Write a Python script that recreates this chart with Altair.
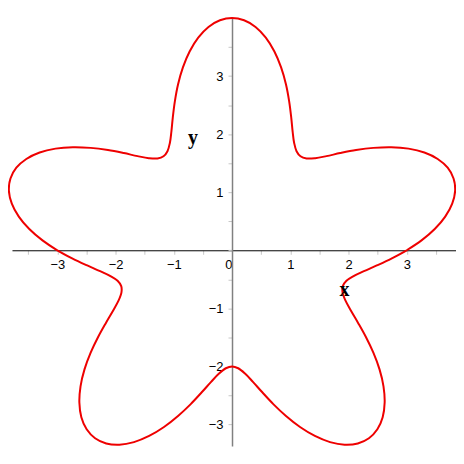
import altair as alt
import pandas as pd

# Curve points, traversed counter-clockwise from (3, 0)
xs = [3.000, 3.254, 3.481, 3.661, 3.781, 3.831, 3.804, 3.703, 3.532, 3.303,
      3.031, 2.733, 2.427, 2.130, 1.858, 1.621, 1.428, 1.280, 1.176, 1.108,
      1.067, 1.041, 1.017, 0.982, 0.927, 0.843, 0.728, 0.580, 0.404, 0.207,
      0.000,
      -0.207, -0.404, -0.580, -0.728, -0.843, -0.927, -0.982, -1.017, -1.041, -1.067,
      -1.108, -1.176, -1.280, -1.428, -1.621, -1.858, -2.130, -2.427, -2.733, -3.031,
      -3.303, -3.532, -3.703, -3.804, -3.831, -3.781, -3.661, -3.481, -3.254, -3.000,
      -2.737, -2.486, -2.265, -2.087, -1.965, -1.902, -1.899, -1.949, -2.043, -2.165,
      -2.299, -2.427, -2.533, -2.601, -2.621, -2.587, -2.496, -2.351, -2.160, -1.933,
      -1.683, -1.423, -1.168, -0.927, -0.709, -0.520, -0.359, -0.223, -0.106, 0.000,
      0.106, 0.223, 0.359, 0.520, 0.709, 0.927, 1.168, 1.423, 1.683, 1.933,
      2.160, 2.351, 2.496, 2.587, 2.621, 2.601, 2.533, 2.427, 2.299, 2.165,
      2.043, 1.949, 1.899, 1.902, 1.965, 2.087, 2.265, 2.486, 2.737, 3.000]
ys = [0.000, 0.170, 0.366, 0.580, 0.804, 1.026, 1.236, 1.421, 1.572, 1.683,
      1.750, 1.775, 1.763, 1.725, 1.673, 1.621, 1.586, 1.581, 1.618, 1.706,
      1.848, 2.043, 2.284, 2.559, 2.853, 3.148, 3.423, 3.661, 3.845, 3.960,
      4.000,
      3.960, 3.845, 3.661, 3.423, 3.148, 2.853, 2.559, 2.284, 2.043, 1.848,
      1.706, 1.618, 1.581, 1.586, 1.621, 1.673, 1.725, 1.763, 1.775, 1.750,
      1.683, 1.572, 1.421, 1.236, 1.026, 0.804, 0.580, 0.366, 0.170, 0.000,
      -0.143, -0.261, -0.359, -0.444, -0.526, -0.618, -0.729, -0.868, -1.041, -1.250,
      -1.493, -1.763, -2.051, -2.342, -2.621, -2.873, -3.082, -3.236, -3.326, -3.348,
      -3.303, -3.197, -3.043, -2.853, -2.648, -2.445, -2.265, -2.122, -2.031, -2.000,
      -2.031, -2.122, -2.265, -2.445, -2.648, -2.853, -3.043, -3.197, -3.303, -3.348,
      -3.326, -3.236, -3.082, -2.873, -2.621, -2.342, -2.051, -1.763, -1.493, -1.250,
      -1.041, -0.868, -0.729, -0.618, -0.526, -0.444, -0.359, -0.261, -0.143, 0.000]

x_tick_values = [-3.5, -3, -2.5, -2, -1.5, -1, -0.5, 0, 0.5, 1, 1.5, 2, 2.5, 3, 3.5]
y_tick_values = [-3, -2.5, -2, -1.5, -1, -0.5, 0, 0.5, 1, 1.5, 2, 2.5, 3, 3.5]

axis_titles = ["x", "y"]
axis_title_x = [1.93, -0.67]
axis_title_y = [-0.69, 1.94]

curve = pd.DataFrame({"i": list(range(len(xs))), "x": xs, "y": ys})
titles = pd.DataFrame({"t": axis_titles, "x": axis_title_x, "y": axis_title_y})

W, H = 446, 430
xdom = [-3.778, 3.846]
ydom = [-3.37, 4.0]
x0_px = W * (0 - xdom[0]) / (xdom[1] - xdom[0])
y0_px = H * (ydom[1] - 0) / (ydom[1] - ydom[0])

xscale = alt.Scale(domain=xdom, nice=False, zero=False)
yscale = alt.Scale(domain=ydom, nice=False, zero=False)

x_axis = alt.Axis(
    values=x_tick_values, title=None, grid=False,
    labelExpr="datum.value % 1 == 0 ? format(datum.value, 'd') : ''",
    labelAlign={"condition": {"test": "datum.value == 0", "value": "right"}, "value": "center"},
    offset=-(H - y0_px), domainColor="#000000", domainWidth=1,
    tickColor="#c8c8c8", tickSize=4, labelPadding=4,
    labelFont="Liberation Sans", labelFontSize=13, labelColor="#000000")
y_axis = alt.Axis(
    values=y_tick_values, title=None, grid=False,
    labelExpr="(datum.value % 1 == 0 && datum.value != 0) ? format(datum.value, 'd') : ''",
    offset=-x0_px, domainColor="#808080", domainWidth=1.5,
    tickColor="#c8c8c8", tickSize=4, labelPadding=5,
    labelFont="Liberation Sans", labelFontSize=13, labelColor="#000000")

line = alt.Chart(curve).mark_line(
    color="#ee0000", strokeWidth=2, clip=False, interpolate="catmull-rom"
).encode(
    x=alt.X("x:Q", scale=xscale, axis=x_axis),
    y=alt.Y("y:Q", scale=yscale, axis=y_axis),
    order="i:Q",
)

text = alt.Chart(titles).mark_text(
    font="Liberation Serif", fontWeight="bold", fontSize=20, color="#000000",
    align="center", baseline="middle"
).encode(
    x=alt.X("x:Q", scale=xscale, axis=x_axis),
    y=alt.Y("y:Q", scale=yscale, axis=y_axis),
    text="t:N",
)

chart = alt.layer(line, text).properties(
    width=W, height=H,
    padding={"left": 4, "top": 9, "right": 0, "bottom": 0},
    autosize="none",
).configure_view(stroke=None)

chart.save("out.html", embed_options={"renderer": "svg", "actions": False})
